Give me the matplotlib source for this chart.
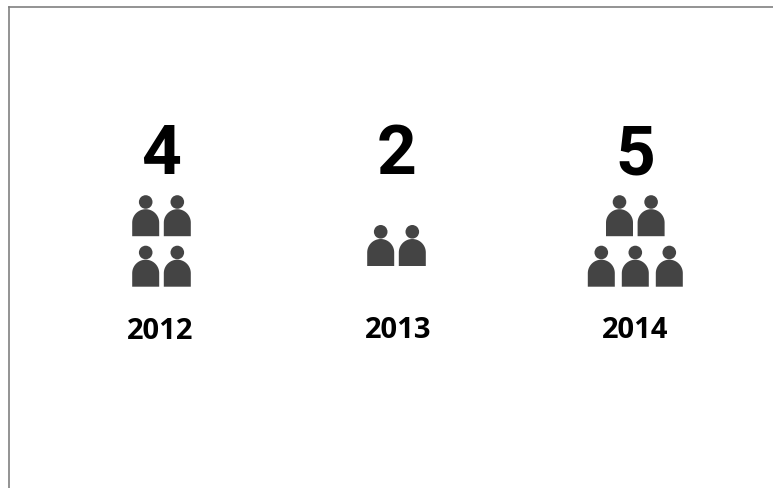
import matplotlib
matplotlib.use("Agg")
import numpy as np
import matplotlib.pyplot as plt
from matplotlib.patches import Circle, PathPatch
from matplotlib.path import Path

# Data
years = ["2012", "2013", "2014"]
counts = [4, 2, 5]
rows_per_year = [[2, 2], [2], [2, 3]]

# Layout (pixel units of the figure)
W, H = 773, 488
centers = [161.5, 396.5, 635.3]
number_x = [160.8, 396.7, 635.5]
year_x = [160.5, 398, 635.5]
number_y = [149, 148.5, 149]
year_y = [328.5, 327.5, 327.5]
bottoms = [[236.2, 286.7], [266], [236.2, 286.7]]
spacing = {2: 31.6, 3: 34}
ICON = "#444444"
BORDER = "#808080"

plt.rcParams['font.family'] = ['Open Sans', 'DejaVu Sans']
fig = plt.figure(figsize=(W / 100, H / 100), dpi=100, facecolor="white")
ax = fig.add_axes([9 / W, 0, 1 - 9 / W, 1 - 7.3 / H])
ax.set_xlim(9, W)
ax.set_ylim(H, 7.3)
ax.set_xticks([])
ax.set_yticks([])
for side in ("right", "bottom"):
    ax.spines[side].set_visible(False)
for side in ("top", "left"):
    ax.spines[side].set_color(BORDER)
    ax.spines[side].set_linewidth(1.2)


def person(x, bottom):
    r = 13.5
    angles = np.linspace(np.pi, 2 * np.pi, 40)
    px = x + r * np.cos(angles)
    py = bottom - r + r * np.sin(angles)
    verts = [(x - r, bottom)] + list(zip(px, py)) + [(x + r, bottom), (x - r, bottom)]
    codes = [Path.MOVETO] + [Path.LINETO] * (len(verts) - 2) + [Path.CLOSEPOLY]
    ax.add_patch(PathPatch(Path(verts, codes), fc=ICON, ec="none"))
    ax.add_patch(Circle((x, bottom - 34.2), 6.8, fc=ICON, ec="none"))


for i, (year, count) in enumerate(zip(years, counts)):
    ax.text(number_x[i], number_y[i], str(count), ha="center", va="center_baseline",
            fontsize=50, fontweight="bold", color="black", family=["Roboto", "DejaVu Sans"])
    ax.text(year_x[i], year_y[i], year, ha="center", va="center_baseline",
            fontsize=21, fontweight="bold", color="black")
    for n, bottom in zip(rows_per_year[i], bottoms[i]):
        for k in range(n):
            person(centers[i] + (k - (n - 1) / 2) * spacing[n], bottom)

fig.savefig("out.png", dpi=100)
